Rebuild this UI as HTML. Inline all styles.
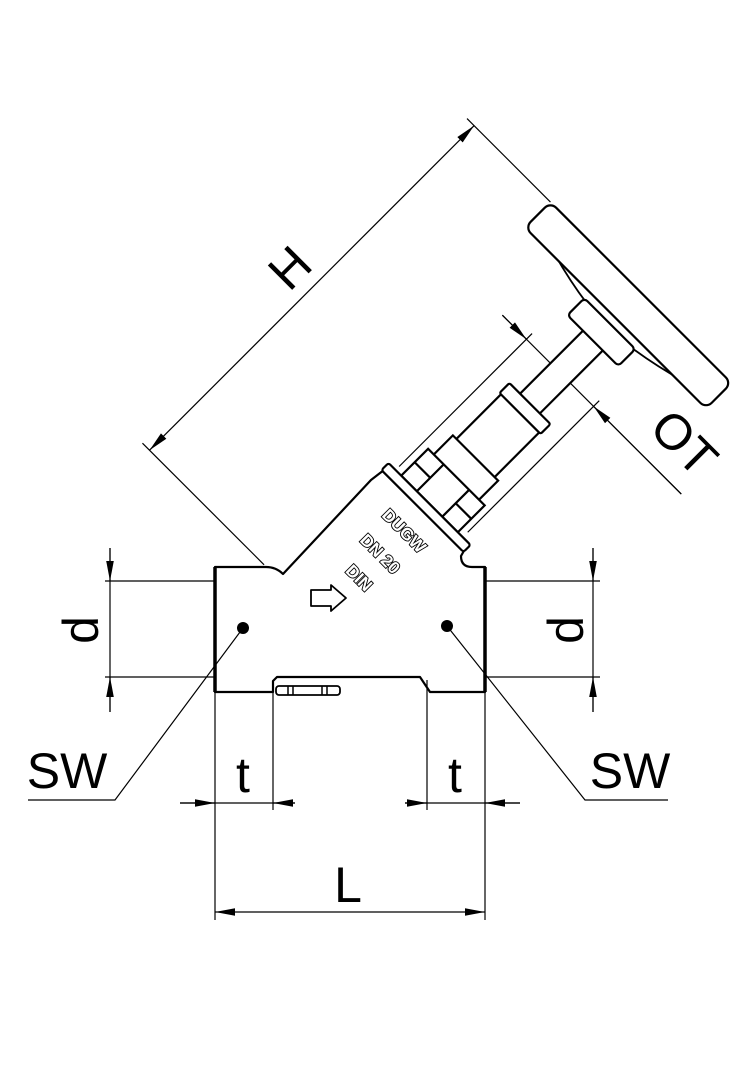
<!DOCTYPE html>
<html><head><meta charset="utf-8"><style>
html,body{margin:0;padding:0;background:#fff;}
svg{display:block;}
text{font-family:"Liberation Sans",sans-serif;}
</style></head><body>
<svg width="756" height="1080" viewBox="0 0 756 1080" xmlns="http://www.w3.org/2000/svg">
<defs>
<marker id="a" viewBox="0 0 20 10" refX="20" refY="5" markerWidth="20" markerHeight="10" markerUnits="userSpaceOnUse" orient="auto-start-reverse">
<path d="M0,1.2 L20,5 L0,8.8 z" fill="#000"/>
</marker>
</defs>
<rect width="756" height="1080" fill="#fff"/>

<!-- body -->
<path d="M215,567 L266,567 Q276,567 283,574 L371,480 L384,470 L465,549 L461,556 Q461,567 472,567 L485,567 L485,692 L430,692 L420,677 L277,677 L273,681 L273,692 L215,692 Z" fill="#fff" stroke="#000" stroke-width="2.2" stroke-linejoin="round"/>
<line x1="215" y1="567" x2="215" y2="692" stroke="#000" stroke-width="3.5"/>
<line x1="485" y1="567" x2="485" y2="692" stroke="#000" stroke-width="3.5"/>
<rect x="276" y="686" width="64" height="9" rx="3" fill="#fff" stroke="#000" stroke-width="1.8"/>
<g stroke="#000" stroke-width="1.5"><line x1="288" y1="686" x2="288" y2="695"/><line x1="293" y1="686" x2="293" y2="695"/><line x1="322" y1="686" x2="322" y2="695"/><line x1="327" y1="686" x2="327" y2="695"/></g>

<!-- rotated bonnet group -->
<g transform="translate(426,507.5) rotate(-45)" stroke="#000" fill="#fff" stroke-width="2.2">
  <line x1="-155" y1="-236" x2="304" y2="-236" stroke-width="1.2" marker-start="url(#a)" marker-end="url(#a)"/>
  <line x1="304" y1="-246" x2="304" y2="-128" stroke-width="1.2"/>
  <line x1="-155" y1="-246" x2="-155" y2="-74" stroke-width="1.2"/>
  <line x1="190" y1="-82" x2="190" y2="171" stroke-width="1.2"/>
  <line x1="190" y1="-82" x2="190" y2="-48" stroke-width="1.2" marker-end="url(#a)"/>
  <line x1="190" y1="171" x2="190" y2="47" stroke-width="1.2" marker-end="url(#a)"/>
  <line x1="10" y1="-48" x2="198" y2="-48" stroke-width="1.2"/>
  <line x1="12" y1="47" x2="198" y2="47" stroke-width="1.2"/>
  <rect x="145" y="-14" width="93" height="28"/>
  <rect x="68" y="-27" width="68" height="54"/>
  <rect x="133" y="-29" width="14" height="58" rx="2"/>
  <rect x="40" y="-32" width="30" height="64"/>
  <rect x="5" y="-40" width="38" height="80"/>
  <line x1="5" y1="-18" x2="43" y2="-18"/>
  <line x1="5" y1="18" x2="43" y2="18"/>
  <line x1="24" y1="-40" x2="24" y2="-18"/>
  <line x1="24" y1="18" x2="24" y2="40"/>
  <rect x="-5" y="-58" width="10" height="116" rx="2.5"/>
  <path d="M258,-30 Q262,-60 272,-95 M258,30 Q262,60 272,95" fill="none" stroke-width="1.8"/>
  <rect x="236" y="-36" width="24" height="72" rx="4"/>
  <rect x="268" y="-128" width="36" height="256" rx="8"/>
</g>

<!-- body labels -->
<g font-weight="bold" font-size="17" fill="#fff" stroke="#000" stroke-width="1.8" text-anchor="middle" paint-order="stroke">
<text transform="translate(400,535) rotate(45)">DUGW</text>
<text transform="translate(376,558) rotate(45)">DN 20</text>
<text transform="translate(355,582) rotate(45)">DIN</text>
</g>
<path d="M311,590 L331,590 L331,585 L346,598 L331,611 L331,606 L311,606 Z" fill="#fff" stroke="#000" stroke-width="1.8" stroke-linejoin="round"/>

<circle cx="243" cy="628" r="6" fill="#000"/>
<circle cx="447" cy="626" r="6" fill="#000"/>
<g stroke="#000" stroke-width="1.2" fill="none">
<polyline points="243,628 115,800 28,800"/>
<polyline points="447,626 585,800 668,800"/>
<line x1="105" y1="581" x2="215" y2="581"/>
<line x1="105" y1="677" x2="215" y2="677"/>
<line x1="110" y1="548" x2="110" y2="712"/>
<line x1="485" y1="581" x2="600" y2="581"/>
<line x1="485" y1="677" x2="600" y2="677"/>
<line x1="593" y1="548" x2="593" y2="712"/>
<line x1="215" y1="692" x2="215" y2="920"/>
<line x1="485" y1="692" x2="485" y2="920"/>
<line x1="273" y1="692" x2="273" y2="810"/>
<line x1="427" y1="680" x2="427" y2="810"/>
<line x1="180" y1="803" x2="295" y2="803"/>
<line x1="405" y1="803" x2="520" y2="803"/>
</g>
<g stroke="#000" stroke-width="1.2">
<line x1="110" y1="548" x2="110" y2="581" marker-end="url(#a)"/>
<line x1="110" y1="712" x2="110" y2="677" marker-end="url(#a)"/>
<line x1="593" y1="548" x2="593" y2="581" marker-end="url(#a)"/>
<line x1="593" y1="712" x2="593" y2="677" marker-end="url(#a)"/>
<line x1="180" y1="803" x2="215" y2="803" marker-end="url(#a)"/>
<line x1="295" y1="803" x2="273" y2="803" marker-end="url(#a)"/>
<line x1="405" y1="803" x2="427" y2="803" marker-end="url(#a)"/>
<line x1="520" y1="803" x2="485" y2="803" marker-end="url(#a)"/>
<line x1="215" y1="912" x2="485" y2="912" marker-start="url(#a)" marker-end="url(#a)"/>
</g>

<g font-size="50" fill="#000" text-anchor="middle">
<text transform="translate(302,280) rotate(-45)">H</text>
<text transform="translate(672,455) rotate(45)">OT</text>
<text transform="translate(98,630) rotate(-90)">d</text>
<text transform="translate(583,630) rotate(-90)">d</text>
<text x="67" y="788">SW</text>
<text x="630" y="788">SW</text>
<text x="243" y="792">t</text>
<text x="455" y="792">t</text>
<text x="348" y="902">L</text>
</g>
</svg>
</body></html>
